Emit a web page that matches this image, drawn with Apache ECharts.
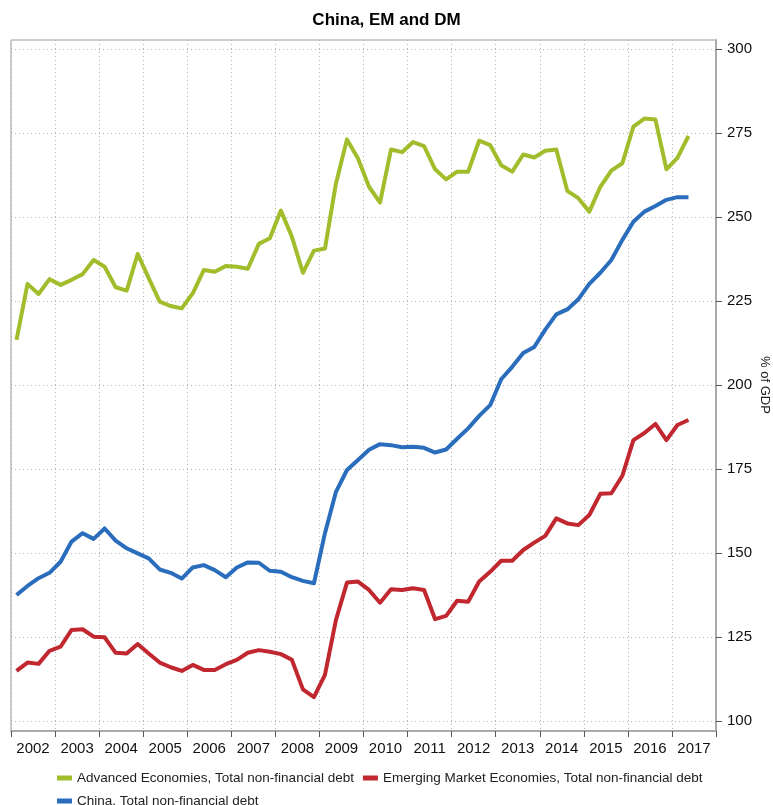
<!DOCTYPE html>
<html>
<head>
<meta charset="utf-8">
<title>China, EM and DM</title>
<script src="https://cdn.jsdelivr.net/npm/echarts@6/dist/echarts.min.js"></script>
<style>
  html, body { margin: 0; padding: 0; background: #fff; }
  #chart { width: 773px; height: 805px; }
</style>
</head>
<body>
<div id="chart"></div>
<script>
// quarterly, 2002Q1 .. 2017Q2
var firstYear = 2002;
var quarters = [];
for (var y = 2002; y <= 2017; y++) {
    for (var q = 1; q <= 4; q++) {
        if (y === 2017 && q > 2) break;
        quarters.push(y + 'Q' + q);
    }
}

var advanced = [
    213.4, 230.1, 227.1, 231.5, 229.8, 231.3, 233.0, 237.2,
    235.2, 229.1, 228.1, 239.0, 231.8, 224.8, 223.5, 222.8,
    227.3, 234.2, 233.7, 235.4, 235.2, 234.6, 242.0, 243.7,
    251.9, 244.1, 233.4, 240.0, 240.6, 260.0, 273.1, 267.4,
    259.0, 254.3, 270.1, 269.3, 272.3, 271.1, 264.2, 261.2,
    263.5, 263.5, 272.7, 271.4, 265.4, 263.5, 268.6, 267.7,
    269.7, 270.1, 257.8, 255.6, 251.6, 259.0, 263.8, 266.0,
    276.9, 279.3, 279.0, 264.2, 267.6, 274.1
];
var emerging = [
    114.9, 117.4, 117.0, 120.9, 122.1, 127.1, 127.3, 125.1,
    124.9, 120.3, 120.1, 122.9, 120.1, 117.4, 116.0, 114.9,
    116.7, 115.2, 115.2, 116.9, 118.2, 120.3, 121.1, 120.6,
    119.9, 118.2, 109.4, 107.1, 113.7, 130.1, 141.2, 141.5,
    139.0, 135.2, 139.2, 139.0, 139.5, 139.0, 130.3, 131.3,
    135.8, 135.5, 141.5, 144.4, 147.7, 147.7, 150.9, 153.1,
    155.1, 160.3, 158.8, 158.3, 161.3, 167.6, 167.8, 173.0,
    183.6, 185.7, 188.4, 183.6, 188.1, 189.6
];
var china = [
    137.5, 140.2, 142.5, 144.1, 147.4, 153.4, 155.9, 154.2,
    157.3, 153.7, 151.4, 149.9, 148.4, 145.1, 144.1, 142.4,
    145.7, 146.4, 144.9, 142.8, 145.7, 147.2, 147.1, 144.7,
    144.4, 142.8, 141.7, 141.0, 155.9, 168.2, 174.7, 177.7,
    180.7, 182.4, 182.1, 181.5, 181.6, 181.3, 179.9, 180.8,
    184.0, 187.1, 190.8, 194.0, 201.7, 205.4, 209.5, 211.3,
    216.5, 221.0, 222.5, 225.5, 230.1, 233.4, 237.2, 243.2,
    248.6, 251.6, 253.3, 255.1, 255.9, 255.9
];

var seriesNames = [
    'Advanced Economies, Total non-financial debt',
    'Emerging Market Economies, Total non-financial debt',
    'China, Total non-financial debt'
];
var colors = ['#a2bd2b', '#c1272f', '#2b6dbd'];

// place each quarter in the middle of its span on a year scale
function toPoints(values) {
    return values.map(function (v, i) {
        var yr = parseInt(quarters[i].slice(0, 4), 10);
        var q = parseInt(quarters[i].slice(5), 10);
        return [yr + (q - 0.5) / 4, v];
    });
}

var font = 'Liberation Sans, Arial, Helvetica, sans-serif';
var gridLine = { show: true, lineStyle: { color: '#b5b5b5', type: [1, 3], width: 1 } };

var chart = echarts.init(document.getElementById('chart'));
chart.setOption({
    animation: false,
    backgroundColor: '#fff',
    textStyle: { fontFamily: font },
    title: {
        text: 'China, EM and DM',
        left: 'center',
        top: 7,
        textStyle: { fontSize: 17, fontWeight: 'bold', color: '#000', fontFamily: font }
    },
    legend: {
        left: 57,
        top: 771,
        padding: 0,
        width: 670,
        itemWidth: 15,
        itemHeight: 5,
        itemGap: 9,
        icon: 'rect',
        data: seriesNames,
        textStyle: { fontSize: 13.5, color: '#222', fontFamily: font, lineHeight: 11 }
    },
    grid: [
        { left: 11, right: 57, top: 40, bottom: 74, show: true, borderColor: '#999', borderWidth: 1, outerBoundsMode: 'none' },
        { left: 11, right: 57, top: 49, bottom: 84, outerBoundsMode: 'none' }
    ],
    xAxis: [
        {
            type: 'value', gridIndex: 0, position: 'bottom',
            min: firstYear, max: 2018, interval: 1,
            axisLine: { show: true, lineStyle: { color: '#aaa', width: 2 } },
            axisTick: { show: true, length: 6, lineStyle: { color: '#555' } },
            axisLabel: { show: false },
            splitLine: gridLine
        },
        {
            type: 'value', gridIndex: 0, position: 'bottom',
            min: firstYear, max: 2018, interval: 0.5,
            axisLine: { show: false },
            axisTick: { show: false },
            splitLine: { show: false },
            axisLabel: {
                fontSize: 15, color: '#111', margin: 10, fontFamily: font,
                formatter: function (v) { return v % 1 === 0.5 ? String(Math.floor(v)) : ''; }
            }
        },
        { type: 'value', gridIndex: 1, min: firstYear, max: 2018, show: false }
    ],
    yAxis: [
        {
            type: 'value', gridIndex: 0, min: 0, max: 1, position: 'right',
            axisLine: { show: true, lineStyle: { color: '#aaa', width: 2 } },
            axisTick: { show: false }, axisLabel: { show: false }, splitLine: { show: false }
        },
        {
            type: 'value', gridIndex: 1, position: 'right',
            min: 100, max: 300, interval: 25,
            axisLine: { show: false },
            axisTick: { show: true, length: 6, lineStyle: { color: '#555' } },
            axisLabel: { fontSize: 15, color: '#111', margin: 11, fontFamily: font },
            splitLine: gridLine,
            name: '% of GDP',
            nameLocation: 'middle',
            nameRotate: -90,
            nameGap: 42,
            nameMoveOverlap: false,
            nameTextStyle: { fontSize: 13, color: '#222', fontFamily: font }
        }
    ],
    series: [advanced, emerging, china].map(function (vals, k) {
        return {
            name: seriesNames[k],
            type: 'line',
            xAxisIndex: 2,
            yAxisIndex: 1,
            data: toPoints(vals),
            showSymbol: false,
            symbol: 'none',
            color: colors[k],
            lineStyle: { width: 4, color: colors[k], join: 'round' },
            z: 3
        };
    })
});
</script>
</body>
</html>
